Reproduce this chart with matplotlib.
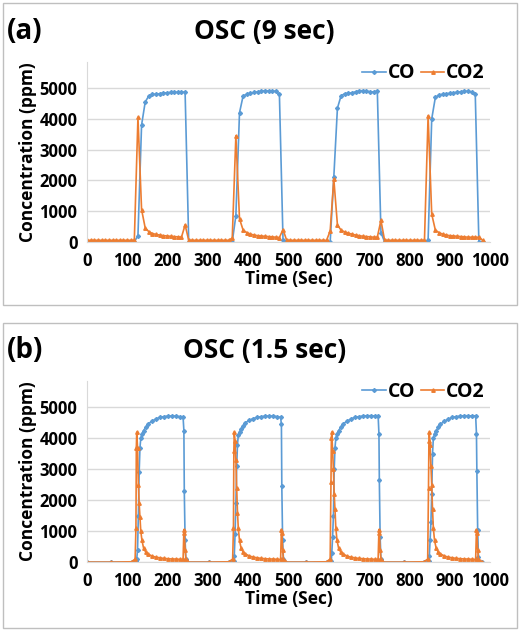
import matplotlib.pyplot as plt
import matplotlib.patches as mpatches
import numpy as np

plt.rcParams['font.family'] = ['Open Sans', 'DejaVu Sans']
plt.rcParams['font.weight'] = 'bold'

# ---- panel (a): 9 s sampling ----
a_time = np.arange(0, 990, 9)
a_co = [0]*14 + \
    [200, 3800, 4550, 4750, 4800, 4800, 4820, 4840, 4850, 4860, 4860, 4870, 4870, 4870] + \
    [0]*13 + \
    [850, 4200, 4750, 4800, 4830, 4860, 4880, 4900, 4920, 4910, 4900, 4900, 4800] + \
    [50] + [0]*13 + \
    [2100, 4350, 4750, 4820, 4830, 4850, 4880, 4910, 4920, 4910, 4880, 4880, 4900] + \
    [300] + [0]*12 + [50] + \
    [4000, 4700, 4780, 4800, 4820, 4830, 4850, 4870, 4880, 4900, 4900, 4880, 4820] + \
    [0, 0]
a_co2 = [50]*14 + \
    [4050, 1050, 450, 330, 270, 240, 220, 200, 190, 180, 170, 160, 150, 550] + \
    [50]*12 + [120] + \
    [3450, 750, 380, 300, 250, 220, 200, 190, 180, 170, 160, 150, 140] + \
    [400] + [50]*12 + [350] + \
    [2050, 550, 380, 320, 280, 250, 220, 200, 180, 170, 160, 150, 150] + \
    [700] + [50]*12 + [4100] + \
    [900, 380, 300, 250, 220, 200, 190, 180, 170, 160, 150, 150, 150] + \
    [150, 50]

# ---- panel (b): 1.5 s sampling, key points per cycle ----
b_starts = [120, 362, 604, 846]
b_offsets = [-120, -60, -10, -1, 1, 2, 3, 5, 7, 9, 11, 13, 16, 20, 25, 30, 40, 50, 60,
             70, 80, 90, 100, 110, 118, 120, 121, 123, 125, 128]
b_co = [
    [0, 0, 0, 0, 0, 50, 100, 400, 1500, 2900, 3700, 4000, 4150, 4250, 4350, 4450, 4550,
     4620, 4680, 4700, 4720, 4720, 4720, 4700, 4680, 4250, 2300, 700, 100, 0],
    [0, 0, 0, 0, 0, 50, 200, 900, 1900, 3100, 3800, 4100, 4200, 4300, 4400, 4500, 4580,
     4640, 4680, 4700, 4720, 4720, 4720, 4700, 4680, 4450, 2450, 700, 100, 0],
    [0, 0, 0, 0, 0, 50, 300, 800, 1500, 3000, 3700, 4000, 4150, 4250, 4350, 4450, 4550,
     4620, 4680, 4700, 4720, 4730, 4730, 4720, 4730, 4150, 2650, 800, 100, 0],
    [0, 0, 0, 0, 0, 50, 200, 700, 1300, 2200, 3500, 4000, 4150, 4250, 4350, 4450, 4550,
     4620, 4680, 4700, 4720, 4730, 4730, 4720, 4730, 4150, 2950, 1050, 150, 0],
]
b_co2 = [
    [0, 0, 10, 100, 1100, 3700, 4200, 3700, 2500, 1900, 1450, 1000, 700, 450, 330, 270,
     200, 160, 140, 120, 110, 100, 100, 90, 90, 1050, 950, 400, 100, 30],
    [0, 0, 10, 100, 1100, 3600, 4200, 3900, 3300, 2400, 1600, 1100, 700, 450, 330, 270,
     200, 160, 140, 120, 110, 100, 100, 90, 90, 1050, 950, 400, 100, 30],
    [0, 0, 10, 100, 2600, 4000, 4200, 3600, 3000, 2200, 1700, 1100, 700, 450, 330, 270,
     200, 160, 140, 120, 110, 100, 100, 90, 90, 1050, 950, 400, 100, 30],
    [0, 0, 10, 100, 2400, 3900, 4200, 3800, 3100, 2500, 1700, 1100, 700, 450, 330, 270,
     200, 160, 140, 120, 110, 100, 100, 90, 90, 1050, 950, 400, 100, 30],
]
b_tail = 980

blue = '#5B9BD5'
orange = '#ED7D31'

fig = plt.figure(figsize=(5.22, 6.33), dpi=100)
for y0, h in [(3, 302), (323, 305)]:
    fig.patches.append(mpatches.Rectangle((3/522, 1-(y0+h)/633), 514/522, h/633,
                       transform=fig.transFigure, fill=False, ec='#bfbfbf', lw=1))


def style(ax, tag, title):
    ax.set_xlim(0, 1000)
    ax.set_ylim(0, 5850)
    ax.set_xticks(range(0, 1001, 100))
    ax.set_yticks(range(0, 5001, 1000))
    ax.grid(axis='y', color='#d9d9d9', lw=1)
    ax.set_axisbelow(True)
    for s in ['top', 'right']:
        ax.spines[s].set_visible(False)
    for s in ['left', 'bottom']:
        ax.spines[s].set_color('#d9d9d9')
    ax.tick_params(length=0, labelsize=12, pad=7)
    ax.set_xlabel('Time (Sec)', fontsize=12.5, fontweight='bold', labelpad=0)
    ax.set_ylabel('Concentration (ppm)', fontsize=12.5, fontweight='bold', labelpad=2)
    ax.legend(loc='upper right', bbox_to_anchor=(1.03, 1.09), ncol=2, frameon=False,
              handlelength=1.2, handletextpad=0.1, columnspacing=0.3,
              prop={'weight': 'bold', 'size': 14})
    ax.text(-0.2, 1.17, tag, transform=ax.transAxes, fontsize=20, fontweight='bold',
            va='center')
    ax.text(0.44, 1.17, title, transform=ax.transAxes, fontsize=19, fontweight='bold',
            ha='center', va='center')


ax1 = fig.add_axes([0.167, 0.618, 0.772, 0.284])
ax1.plot(a_time, a_co, color=blue, lw=1.2, marker='D', ms=2, label='CO')
ax1.plot(a_time, a_co2, color=orange, lw=1.2, marker='^', ms=2.5, label='CO2')
style(ax1, '(a)', 'OSC (9 sec)')

ax2 = fig.add_axes([0.167, 0.112, 0.772, 0.286])
bt, bco, bco2 = [], [], []
for s, c, c2 in zip(b_starts, b_co, b_co2):
    bt += [s + o for o in b_offsets]
    bco += c
    bco2 += c2
bt.append(b_tail)
bco.append(0)
bco2.append(0)
ax2.plot(bt, bco, color=blue, lw=1.2, marker='D', ms=2, label='CO')
ax2.plot(bt, bco2, color=orange, lw=1.2, marker='^', ms=2.5, label='CO2')
style(ax2, '(b)', 'OSC (1.5 sec)')

fig.savefig('out.png', dpi=100)
